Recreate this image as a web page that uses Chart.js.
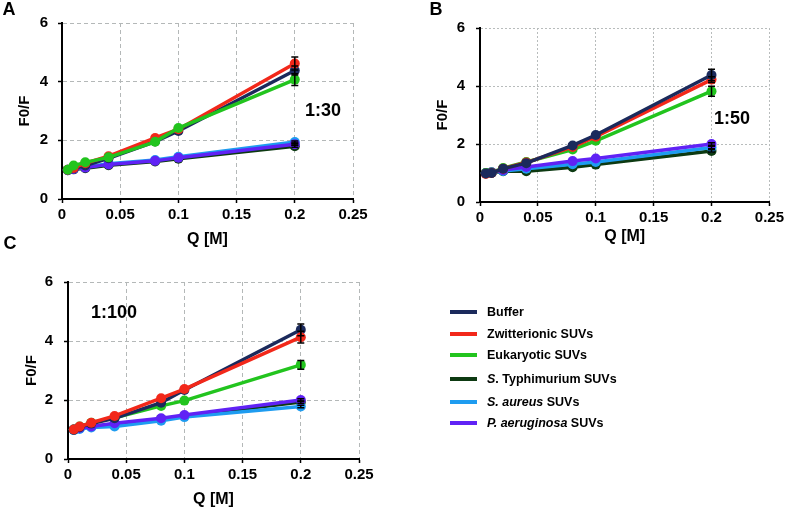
<!DOCTYPE html>
<html>
<head>
<meta charset="utf-8">
<script src="https://cdn.jsdelivr.net/npm/chart.js@4.4.1/dist/chart.umd.min.js"></script>
<style>
  html, body { margin:0; padding:0; background:#fff; }
  body { width:787px; height:511px; position:relative; overflow:hidden; font-family:"Liberation Sans", Arial, sans-serif; }
  canvas { position:absolute; }
  .lbl { position:absolute; font-weight:bold; color:#000; white-space:nowrap; transform:translate(-50%,-50%); }
  .letter { font-size:18px; }
  .ratio { font-size:18px; }
  #legend { position:absolute; left:450px; top:0; }
  .lg { position:absolute; left:0; height:20px; white-space:nowrap; font-size:12.5px; font-weight:bold; }
  .lg .sw { position:absolute; left:0; top:8px; width:27px; height:4px; }
  .lg .tx { position:absolute; left:37px; top:0; line-height:20px; }
</style>
</head>
<body>
<canvas id="cA" width="380" height="250" style="left:0;top:0"></canvas>
<canvas id="cB" width="397" height="250" style="left:390px;top:0"></canvas>
<canvas id="cC" width="380" height="251" style="left:0;top:260px"></canvas>

<div class="lbl letter" style="left:9px;top:9px">A</div>
<div class="lbl letter" style="left:436px;top:9px">B</div>
<div class="lbl letter" style="left:10px;top:243px">C</div>
<div class="lbl ratio" style="left:323px;top:110px">1:30</div>
<div class="lbl ratio" style="left:732px;top:118px">1:50</div>
<div class="lbl ratio" style="left:114px;top:312px">1:100</div>

<div id="legend"></div>

<script>
// ---------- data ----------
const qValues = [0.005, 0.01, 0.02, 0.04, 0.08, 0.1, 0.2];
const xTickLabels = ['0', '0.05', '0.1', '0.15', '0.2', '0.25'];
const yTickLabels = ['0', '2', '4', '6'];

const seriesNames = ['Buffer', 'Zwitterionic SUVs', 'Eukaryotic SUVs', 'S. Typhimurium SUVs', 'S. aureus SUVs', 'P. aeruginosa SUVs'];
const seriesColors = ['#1b2a5c', '#f2281a', '#22c41e', '#0d3a12', '#1e9cf0', '#6022f5'];

// Panel A (1:30)
const aBuffer = [1.00, 1.05, 1.14, 1.39, 1.96, 2.32, 4.38];
const aZwit   = [1.00, 1.06, 1.22, 1.46, 2.08, 2.38, 4.62];
const aEuk    = [1.00, 1.14, 1.25, 1.42, 1.95, 2.42, 4.07];
const aStyph  = [0.98, 1.01, 1.05, 1.15, 1.28, 1.37, 1.80];
const aSaur   = [1.00, 1.04, 1.09, 1.20, 1.33, 1.44, 1.94];
const aPaer   = [0.98, 1.02, 1.07, 1.18, 1.30, 1.41, 1.87];
const aErr    = [0.15, 0.22, 0.20, 0.04, 0.04, 0.04]; // at Q = 0.2

// Panel B (1:50)
const bBuffer = [0.98, 1.00, 1.15, 1.34, 1.95, 2.31, 4.38];
const bZwit   = [0.97, 1.00, 1.15, 1.36, 1.90, 2.25, 4.22];
const bEuk    = [1.00, 1.02, 1.17, 1.38, 1.81, 2.11, 3.82];
const bStyph  = [0.98, 1.00, 1.06, 1.06, 1.20, 1.29, 1.76];
const bSaur   = [1.00, 1.02, 1.07, 1.15, 1.30, 1.38, 1.88];
const bPaer   = [1.00, 1.03, 1.10, 1.21, 1.41, 1.50, 2.00];
const bErr    = [0.20, 0.10, 0.17, 0.04, 0.04, 0.04];

// Panel C (1:100)
const cBuffer = [0.99, 1.08, 1.20, 1.38, 1.91, 2.34, 4.38];
const cZwit   = [1.00, 1.10, 1.23, 1.46, 2.06, 2.37, 4.13];
const cEuk    = [1.00, 1.10, 1.23, 1.40, 1.80, 1.98, 3.19];
const cStyph  = [0.99, 1.04, 1.10, 1.18, 1.36, 1.46, 1.93];
const cSaur   = [0.98, 1.02, 1.07, 1.10, 1.30, 1.42, 1.78];
const cPaer   = [1.00, 1.05, 1.10, 1.21, 1.38, 1.49, 2.00];
const cErr    = [0.20, 0.20, 0.15, 0.04, 0.04, 0.04];

// ---------- plugin: error bars at last point ----------
const errorBarPlugin = {
  id: 'errorBars',
  afterDatasetsDraw(chart) {
    const ctx = chart.ctx;
    const xs = chart.scales.x, ys = chart.scales.y;
    chart.data.datasets.forEach((ds) => {
      if (!ds.errors) return;
      ds.data.forEach((p, i) => {
        const e = ds.errors[i];
        if (!e) return;
        const x = xs.getPixelForValue(p.x);
        const y1 = ys.getPixelForValue(p.y + e);
        const y2 = ys.getPixelForValue(p.y - e);
        ctx.save();
        ctx.strokeStyle = '#000';
        ctx.lineWidth = 1.5;
        ctx.beginPath();
        ctx.moveTo(x, y1); ctx.lineTo(x, y2);
        ctx.moveTo(x - 3.5, y1); ctx.lineTo(x + 3.5, y1);
        ctx.moveTo(x - 3.5, y2); ctx.lineTo(x + 3.5, y2);
        ctx.stroke();
        ctx.restore();
      });
    });
  }
};

const FONT = '"Liberation Sans", Arial, sans-serif';

function makeDatasets(arrays, errs, orders) {
  return arrays.map((vals, k) => {
    const errors = vals.map((v, i) => (i === vals.length - 1 ? errs[k] : 0));
    return {
      label: seriesNames[k],
      data: vals.map((v, i) => ({ x: qValues[i], y: v })),
      errors: errors,
      borderColor: seriesColors[k],
      backgroundColor: seriesColors[k],
      pointBackgroundColor: seriesColors[k],
      pointBorderColor: seriesColors[k],
      pointRadius: 5,
      pointBorderWidth: 0,
      borderWidth: 3.5,
      showLine: true,
      tension: 0,
      order: orders[k]
    };
  });
}

function makeChart(id, datasets, o) {
  return new Chart(document.getElementById(id), {
    type: 'scatter',
    data: { datasets },
    plugins: [errorBarPlugin],
    options: {
      responsive: false,
      animation: false,
      devicePixelRatio: 1,
      layout: { padding: { top: o.top, right: o.right, left: 0, bottom: 0 } },
      plugins: { legend: { display: false }, tooltip: { enabled: false } },
      scales: {
        x: {
          type: 'linear', min: 0, max: 0.25,
          afterBuildTicks: (s) => { s.ticks = xTickLabels.map(t => ({ value: parseFloat(t) })); },
          afterFit: (s) => { s.height = o.xh; },
          ticks: {
            callback: (v, i) => xTickLabels[i],
            font: { family: FONT, size: 15, weight: 'bold' }, color: '#000',
            padding: o.xpad, maxRotation: 0, autoSkip: false
          },
          grid: { color: o.gridColor, lineWidth: 1, tickColor: '#000', tickLength: 4, tickWidth: 1.5 },
          border: { display: true, color: '#000', width: 2, dash: o.dash },
          title: { display: true, text: 'Q [M]', color: '#000',
                   font: { family: FONT, size: 16, weight: 'bold' },
                   padding: { top: 0, bottom: o.xtpad } }
        },
        y: {
          type: 'linear', min: 0, max: 6,
          afterBuildTicks: (s) => { s.ticks = yTickLabels.map(t => ({ value: parseFloat(t) })); },
          afterFit: (s) => { s.width = o.yw; },
          ticks: {
            callback: (v, i) => yTickLabels[i],
            font: { family: FONT, size: 15, weight: 'bold' }, color: '#000',
            padding: o.ypad
          },
          grid: { color: o.gridColor, lineWidth: 1, tickColor: '#000', tickLength: 4, tickWidth: 1.5 },
          border: { display: true, color: '#000', width: 2, dash: o.dash },
          title: { display: true, text: 'F0/F', color: '#000',
                   font: { family: FONT, size: 15, weight: 'bold' },
                   padding: { top: o.ytpad, bottom: 0 } }
        }
      }
    }
  });
}

// draw orders (lower = on top)
makeChart('cA', makeDatasets([aBuffer, aZwit, aEuk, aStyph, aSaur, aPaer], aErr, [3, 2, 1, 6, 5, 4]),
  { top: 23, right: 27, xh: 51, yw: 62, xpad: 3, xtpad: 1, ypad: 10, ytpad: 16, gridColor: '#b4b8b8', dash: [4, 3] });
makeChart('cB', makeDatasets([bBuffer, bZwit, bEuk, bStyph, bSaur, bPaer], bErr, [1, 2, 3, 6, 5, 4]),
  { top: 28, right: 16, xh: 48, yw: 90, xpad: 3, xtpad: 4, ypad: 11, ytpad: 44, gridColor: '#b8bcbc', dash: [2, 2] });
makeChart('cC', makeDatasets([cBuffer, cZwit, cEuk, cStyph, cSaur, cPaer], cErr, [2, 1, 3, 6, 5, 4]),
  { top: 22, right: 21, xh: 52, yw: 68, xpad: 3, xtpad: 2, ypad: 11, ytpad: 23, gridColor: '#b4b8b8', dash: [4, 3] });

// ---------- legend ----------
const legendRows = [312, 334, 355, 379, 402, 423];
const legendHtml = [
  'Buffer',
  'Zwitterionic SUVs',
  'Eukaryotic SUVs',
  '<i>S</i>. Typhimurium SUVs',
  '<i>S. aureus</i> SUVs',
  '<i>P. aeruginosa</i> SUVs'
];
const lg = document.getElementById('legend');
legendHtml.forEach((h, k) => {
  const d = document.createElement('div');
  d.className = 'lg';
  d.style.top = (legendRows[k] - 10) + 'px';
  d.innerHTML = '<span class="sw" style="background:' + seriesColors[k] + '"></span><span class="tx">' + h + '</span>';
  lg.appendChild(d);
});
</script>
</body>
</html>
